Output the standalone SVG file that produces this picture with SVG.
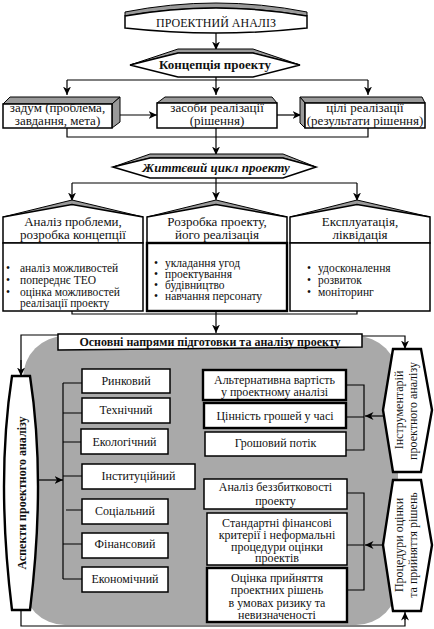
<svg xmlns="http://www.w3.org/2000/svg" width="434" height="629" viewBox="0 0 434 629">
<style>
text{font-family:"Liberation Serif","Times New Roman",serif;fill:#111;}
.t13{font-size:13px;}
.t12{font-size:12px;}
.t11{font-size:11.5px;}
.b{font-weight:bold;}
.m{text-anchor:middle;}
.box{fill:#fff;stroke:#000;stroke-width:1.5;}
.thick{fill:#fff;stroke:#000;stroke-width:2.4;}
.bev{fill:#9a9a9a;stroke:#000;stroke-width:1;}
.ln{fill:none;stroke:#000;stroke-width:1.2;}
.ar{fill:none;stroke:#000;stroke-width:1.2;marker-end:url(#ah);}
</style>
<defs>
<marker id="ah" markerUnits="userSpaceOnUse" markerWidth="9" markerHeight="8" refX="8.5" refY="4" orient="auto">
<path d="M0,0 L8.5,4 L0,8 L2.5,4 Z" fill="#000"/>
</marker>
</defs>

<rect id="bg" x="23" y="336" width="375" height="289" rx="42" ry="42" fill="#a9a9a9"/>

<g id="connectors">
<path class="ar" d="M216,33 V50"/>
<path class="ln" d="M67,80 H368"/>
<path class="ar" d="M67,80 V95"/>
<path class="ar" d="M216,77 V95"/>
<path class="ar" d="M368,80 V95"/>
<path class="ar" d="M120,115 H157"/>
<path class="ar" d="M277,115 H301"/>
<path class="ln" d="M67,128 V137 H368 V128"/>
<path class="ar" d="M216,128 V155"/>
<path class="ln" d="M72,183 H357"/>
<path class="ar" d="M216,178 V200"/>
<path class="ar" d="M72,183 V201"/>
<path class="ar" d="M357,183 V201"/>
<path class="ln" d="M72,311 V314 H357 V311"/>
<path class="ar" d="M216,311 V333"/>
<path class="ln" d="M58,335 H21 V626 H405 V614"/>
<path class="ar" d="M405,620 V612"/>
<path class="ar" d="M21,360 V376"/>
<path class="ar" d="M362,336 H405 V349"/>
<path class="ar" d="M38,480 H63"/>
<path class="ln" d="M63,383 V579"/>
<path class="ln" d="M63,383 H82 M63,413 H82 M63,442 H81 M63,476 H82 M66,510 H82 M63,544 H82 M63,579 H82"/>
<path class="ln" d="M346,385 H364 V450 H346 M346,417 H364"/>
<path class="ar" d="M383,416 H365"/>
<path class="ln" d="M347,493 H364 V590 H347 M347,545 H364"/>
<path class="ar" d="M383,545 H365"/>
</g>

<g id="n-proj-analiz">
<path class="bev" d="M125,12 Q216,-6 307,12 L307,16 Q216,0 125,16 Z"/>
<path class="box" d="M125,16 Q216,0 307,16 V28 Q216,38 125,28 Z"/>
<text class="t12 m" x="216" y="27">ПРОЕКТНИЙ АНАЛІЗ</text>
</g>

<g id="n-koncepcia">
<polygon class="bev" points="130,65 178,49 253,49 300,65 253,53 178,53"/>
<polygon class="box" points="130,65 178,53 253,53 300,65 253,77 178,77"/>
<text class="t13 b m" x="215" y="69">Концепція проекту</text>
</g>

<g id="n-zadum">
<polygon class="bev" points="3,104 10,97 120,97 112,104"/>
<polygon class="bev" points="112,104 120,97 120,122 112,128"/>
<rect class="box" x="3" y="104" width="109" height="24"/>
<text class="t13 m" x="57.5" y="112">задум (проблема,</text>
<text class="t13 m" x="57.5" y="125">завдання, мета)</text>
</g>

<g id="n-zasoby">
<polygon class="bev" points="157,103 165,97 272,97 277,103"/>
<rect class="box" x="157" y="103" width="120" height="25"/>
<text class="t13 m" x="217" y="112">засоби реалізації</text>
<text class="t13 m" x="217" y="125">(рішення)</text>
</g>

<g id="n-cili">
<polygon class="bev" points="300,97 422,97 425,103 305,103"/>
<polygon class="bev" points="300,97 305,103 305,128 300,123"/>
<rect class="box" x="305" y="103" width="120" height="25"/>
<text class="t13 m" x="365" y="112">цілі реалізації</text>
<text class="t13 m" x="365" y="125">(результати рішення)</text>
</g>

<g id="n-zhyttevyi">
<polygon class="bev" points="113,167 150,154 283,154 316,167 283,158 150,158"/>
<polygon class="box" points="113,167 150,158 283,158 316,167 283,178 150,178"/>
<text class="t13 b m" x="216" y="172" font-style="italic">Життєвий цикл проекту</text>
</g>

<g id="n-analiz-problemy">
<polygon class="bev" points="3,217 72,200 143,217"/>
<polygon class="box" points="3,217 72,204.5 143,217 143,243 3,243"/>
<text class="t13 m" x="73" y="226">Аналіз проблеми,</text>
<text class="t13 m" x="73" y="239">розробка концепції</text>
<rect class="box" x="3" y="243" width="140" height="68"/>
<text class="t11" x="6" y="272">•</text><text class="t11" x="20" y="272">аналіз можливостей</text>
<text class="t11" x="6" y="284">•</text><text class="t11" x="20" y="284">попереднє ТЕО</text>
<text class="t11" x="6" y="296">•</text><text class="t11" x="20" y="296">оцінка можливостей</text>
<text class="t11" x="20" y="307">реалізації проекту</text>
</g>

<g id="n-rozrobka">
<polygon class="bev" points="147,217 216,200 287,217"/>
<polygon class="box" points="147,217 216,204.5 287,217 287,243 147,243"/>
<text class="t13 m" x="217" y="226">Розробка проекту,</text>
<text class="t13 m" x="217" y="239">його реалізація</text>
<rect class="thick" x="147" y="243" width="140" height="68"/>
<text class="t11" x="154" y="267">•</text><text class="t11" x="165" y="267">укладання угод</text>
<text class="t11" x="154" y="278">•</text><text class="t11" x="165" y="278">проектування</text>
<text class="t11" x="154" y="289">•</text><text class="t11" x="165" y="289">будівництво</text>
<text class="t11" x="154" y="300">•</text><text class="t11" x="165" y="300">навчання персонату</text>
</g>

<g id="n-ekspluatacia">
<polygon class="bev" points="290,217 357,200 430,217"/>
<polygon class="box" points="290,217 357,204.5 430,217 430,243 290,243"/>
<text class="t13 m" x="360" y="226">Експлуатація,</text>
<text class="t13 m" x="360" y="239">ліквідація</text>
<rect class="box" x="290" y="243" width="140" height="68"/>
<text class="t11" x="307" y="272">•</text><text class="t11" x="318" y="272">удосконалення</text>
<text class="t11" x="307" y="284">•</text><text class="t11" x="318" y="284">розвиток</text>
<text class="t11" x="307" y="296">•</text><text class="t11" x="318" y="296">моніторинг</text>
</g>

<g id="n-osnovni">
<polygon class="box" points="58,334 362,334 362,347 58,350"/>
<text class="t12 b m" x="210" y="346">Основні напрями підготовки та аналізу проекту</text>
</g>

<g id="n-aspekty">
<path class="thick" d="M12,376 H30 Q46,480 30,610 H12 Q-4,480 12,376 Z"/>
<text class="t12 b m" transform="translate(25.5,493) rotate(-90)">Аспекти проектного аналізу</text>
</g>

<g id="n-rynkovyi"><rect class="box" x="82" y="369" width="88" height="24"/><text class="t12 m" x="126" y="385">Ринковий</text></g>
<g id="n-tekhnichnyi"><rect class="box" x="82" y="398" width="88" height="25"/><text class="t12 m" x="126" y="414">Технічний</text></g>
<g id="n-ekolohichnyi"><rect class="box" x="81" y="429" width="87" height="25"/><text class="t12 m" x="124.5" y="446">Екологічний</text></g>
<g id="n-instytuciinyi"><rect class="box" x="82" y="464" width="113" height="25"/><text class="t12 m" x="138.5" y="480">Інституційний</text></g>
<g id="n-socialnyi"><rect class="box" x="82" y="499" width="86" height="25"/><text class="t12 m" x="125" y="515">Соціальний</text></g>
<g id="n-finansovyi"><rect class="box" x="82" y="533" width="86" height="25"/><text class="t12 m" x="125" y="548">Фінансовий</text></g>
<g id="n-ekonomichnyi"><rect class="box" x="82" y="567" width="86" height="25"/><text class="t12 m" x="125" y="583">Економічний</text></g>

<g id="n-alternatyvna"><rect class="thick" x="203" y="370" width="143" height="30"/>
<text class="t12 m" x="274.5" y="384">Альтернативна вартість</text>
<text class="t12 m" x="274.5" y="396">у проектному аналізі</text></g>
<g id="n-cinnist"><rect class="thick" x="204" y="403" width="142" height="25"/>
<text class="t12 m" x="275" y="420">Цінність грошей у часі</text></g>
<g id="n-groshovyi"><rect class="box" x="205" y="432" width="141" height="24"/>
<text class="t12 m" x="275.5" y="447">Грошовий потік</text></g>

<g id="n-bezzbytkovist"><rect class="box" x="204" y="479" width="143" height="30"/>
<text class="t12 m" x="275.5" y="491">Аналіз беззбитковості</text>
<text class="t12 m" x="275.5" y="505">проекту</text></g>
<g id="n-standartni"><rect class="box" x="207" y="513" width="140" height="52"/>
<text class="t12 m" x="277" y="527">Стандартні фінансові</text>
<text class="t12 m" x="277" y="539">критерії і неформальні</text>
<text class="t12 m" x="277" y="551">процедури оцінки</text>
<text class="t12 m" x="277" y="562">проектів</text></g>
<g id="n-ocinka"><rect class="thick" x="207" y="568" width="140" height="54"/>
<text class="t12 m" x="277" y="582">Оцінка прийняття</text>
<text class="t12 m" x="277" y="594">проектних рішень</text>
<text class="t12 m" x="277" y="607">в умовах ризику та</text>
<text class="t12 m" x="277" y="619">невизначеності</text></g>

<g id="n-instrumentarii">
<polygon class="thick" points="393,349 421,349 432,410 421,472 393,472 383,410"/>
<text class="t12 m" transform="translate(403,410) rotate(-90)">Інструментарій</text>
<text class="t12 m" transform="translate(417,411) rotate(-90)">проектного аналізу</text>
</g>

<g id="n-procedury">
<polygon class="thick" points="393,480 421,480 432,545 421,611 393,611 383,545"/>
<text class="t12 m" transform="translate(403,545) rotate(-90)">Процедури оцінки</text>
<text class="t12 m" transform="translate(417,545) rotate(-90)">та прийняття рішень</text>
</g>
</svg>
